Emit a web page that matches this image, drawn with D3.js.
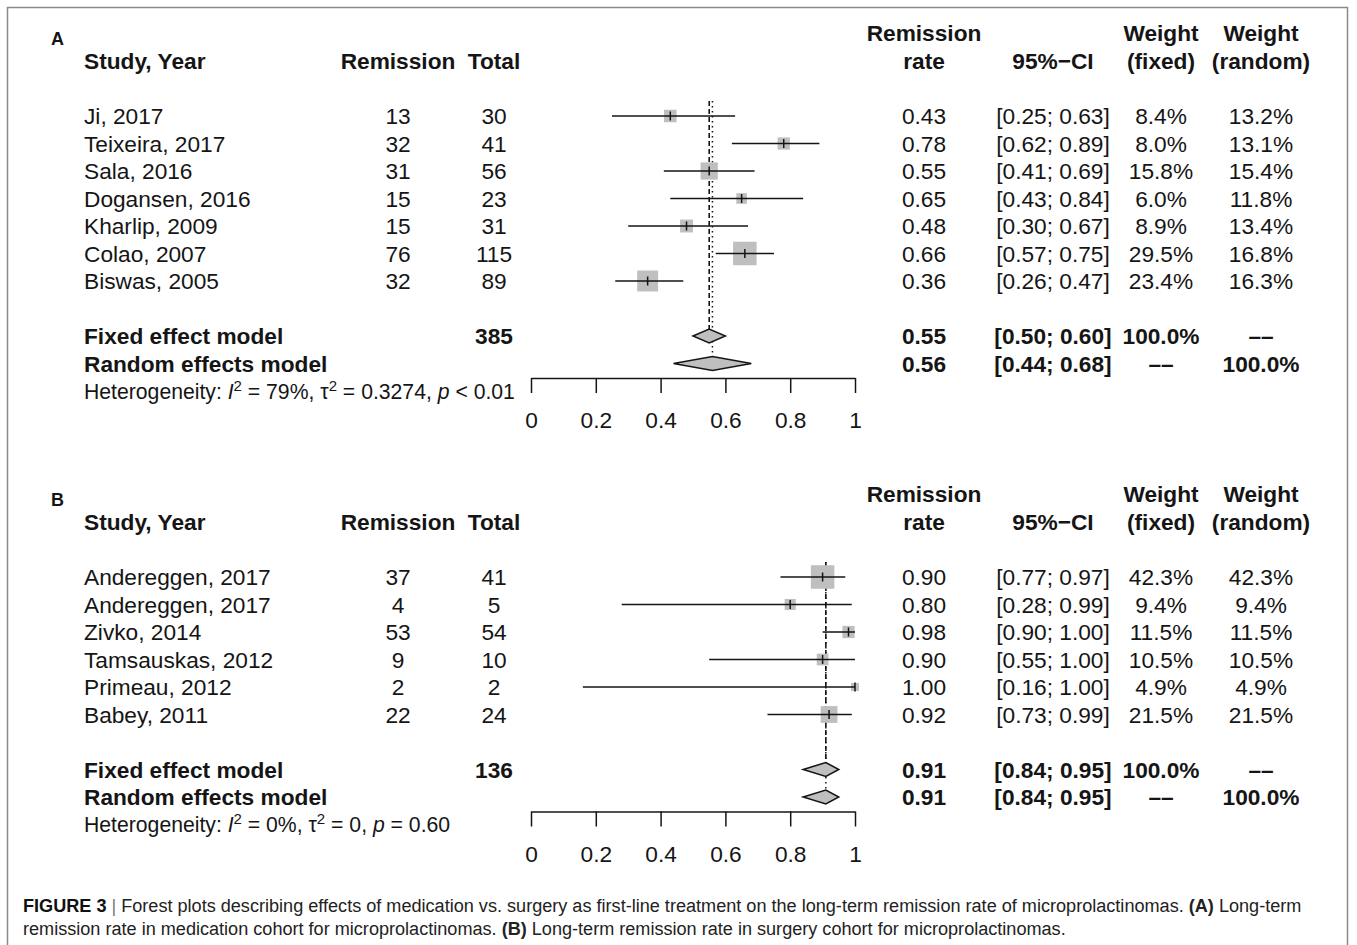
<!DOCTYPE html>
<html>
<head>
<meta charset="utf-8">
<script src="https://cdn.jsdelivr.net/npm/d3@7"></script>
<style>
  body { margin: 0; background: #fff; }
  svg { display: block; font-family: "Liberation Sans", Arial, sans-serif; }
</style>
</head>
<body>
<div id="chart"></div>
<script>
// ---- panel A : medication cohort ----
const studiesA = ["Ji, 2017", "Teixeira, 2017", "Sala, 2016", "Dogansen, 2016", "Kharlip, 2009", "Colao, 2007", "Biswas, 2005"];
const eventsA = [13, 32, 31, 15, 15, 76, 32];
const totalsA = [30, 41, 56, 23, 31, 115, 89];
const rateA = [0.43, 0.78, 0.55, 0.65, 0.48, 0.66, 0.36];
const lowerA = [0.25, 0.62, 0.41, 0.43, 0.30, 0.57, 0.26];
const upperA = [0.63, 0.89, 0.69, 0.84, 0.67, 0.75, 0.47];
const wFixedA = [8.4, 8.0, 15.8, 6.0, 8.9, 29.5, 23.4];
const wRandomA = [13.2, 13.1, 15.4, 11.8, 13.4, 16.8, 16.3];
const pooledRateA = [0.55, 0.56];   // fixed, random
const pooledLowerA = [0.50, 0.44];
const pooledUpperA = [0.60, 0.68];
const pooledTotalA = 385;
const hetA = ["79%", "0.3274", "<", "0.01"];

// ---- panel B : surgery cohort ----
const studiesB = ["Andereggen, 2017", "Andereggen, 2017", "Zivko, 2014", "Tamsauskas, 2012", "Primeau, 2012", "Babey, 2011"];
const eventsB = [37, 4, 53, 9, 2, 22];
const totalsB = [41, 5, 54, 10, 2, 24];
const rateB = [0.90, 0.80, 0.98, 0.90, 1.00, 0.92];
const lowerB = [0.77, 0.28, 0.90, 0.55, 0.16, 0.73];
const upperB = [0.97, 0.99, 1.00, 1.00, 1.00, 0.99];
const wFixedB = [42.3, 9.4, 11.5, 10.5, 4.9, 21.5];
const wRandomB = [42.3, 9.4, 11.5, 10.5, 4.9, 21.5];
const pooledRateB = [0.91, 0.91];
const pooledLowerB = [0.84, 0.84];
const pooledUpperB = [0.95, 0.95];
const pooledTotalB = 136;
const hetB = ["0%", "0", "=", "0.60"];

const tickValues = [0, 0.2, 0.4, 0.6, 0.8, 1];
const tickLabels = ["0", "0.2", "0.4", "0.6", "0.8", "1"];

const W = 1357, H = 945;
const svg = d3.select("#chart").append("svg")
  .attr("width", W).attr("height", H);

// outer frame
svg.append("rect")
  .attr("x", 7.5).attr("y", 7.5)
  .attr("width", 1340).attr("height", 960)
  .attr("fill", "none").attr("stroke", "#8a8a8a").attr("stroke-width", 1.5);

const FS = 22.7;
const ink = "#151515";
const dash2 = "\u2013\u2013";   // R prints "--" here, drawn wide
const col = { study: 84, events: 398, total: 494, rate: 924, ci: 1053, wf: 1161, wr: 1261 };
const x = d3.scaleLinear().domain([0, 1]).range([531, 855]);
const pct = d3.format(".1f");
const f2 = d3.format(".2f");

function txt(g, xp, yp, s, anchor, bold) {
  return g.append("text")
    .attr("x", xp).attr("y", yp + 0.36 * FS)
    .attr("text-anchor", anchor || "middle")
    .attr("font-size", FS)
    .attr("font-weight", bold ? "bold" : null)
    .attr("fill", ink)
    .text(s);
}

function drawPanel(label, top, d) {
  const g = svg.append("g");
  const rowH = 27.5;
  const first = top;                       // y of first study row
  const rows = d.studies.map((s, i) => first + i * rowH);
  const yFixed = rows[rows.length - 1] + 2 * rowH;
  const yRandom = yFixed + rowH;
  const yAxis = yRandom + 14.5;

  // header
  g.append("text").attr("x", 51).attr("y", first - 78 + 6.5)
    .attr("font-size", 18).attr("font-weight", "bold").attr("fill", ink).text(label);
  txt(g, col.study, first - 55, "Study, Year", "start", true);
  txt(g, col.events, first - 55, "Remission", "middle", true);
  txt(g, col.total, first - 55, "Total", "middle", true);
  txt(g, col.rate, first - 83, "Remission", "middle", true);
  txt(g, col.rate, first - 55, "rate", "middle", true);
  txt(g, col.ci, first - 55, "95%\u2212CI", "middle", true);
  txt(g, col.wf, first - 83, "Weight", "middle", true);
  txt(g, col.wf, first - 55, "(fixed)", "middle", true);
  txt(g, col.wr, first - 83, "Weight", "middle", true);
  txt(g, col.wr, first - 55, "(random)", "middle", true);

  // study rows text
  d.studies.forEach((s, i) => {
    const y = rows[i];
    txt(g, col.study, y, s, "start");
    txt(g, col.events, y, d.events[i]);
    txt(g, col.total, y, d.totals[i]);
    txt(g, col.rate, y, f2(d.rate[i]));
    txt(g, col.ci, y, "[" + f2(d.lower[i]) + "; " + f2(d.upper[i]) + "]");
    txt(g, col.wf, y, pct(d.wFixed[i]) + "%");
    txt(g, col.wr, y, pct(d.wRandom[i]) + "%");
  });

  // pooled rows text
  txt(g, col.study, yFixed, "Fixed effect model", "start", true);
  txt(g, col.total, yFixed, d.pooledTotal, "middle", true);
  txt(g, col.rate, yFixed, f2(d.pooledRate[0]), "middle", true);
  txt(g, col.ci, yFixed, "[" + f2(d.pooledLower[0]) + "; " + f2(d.pooledUpper[0]) + "]", "middle", true);
  txt(g, col.wf, yFixed, "100.0%", "middle", true);
  txt(g, col.wr, yFixed, dash2, "middle", true);
  txt(g, col.study, yRandom, "Random effects model", "start", true);
  txt(g, col.rate, yRandom, f2(d.pooledRate[1]), "middle", true);
  txt(g, col.ci, yRandom, "[" + f2(d.pooledLower[1]) + "; " + f2(d.pooledUpper[1]) + "]", "middle", true);
  txt(g, col.wf, yRandom, dash2, "middle", true);
  txt(g, col.wr, yRandom, "100.0%", "middle", true);

  // heterogeneity line (pixel shifts so the baseline returns exactly)
  const hs = 21.2, up = 8;
  const het = g.append("text").attr("x", col.study).attr("y", yRandom + rowH + 0.36 * hs)
    .attr("font-size", hs).attr("fill", ink);
  het.append("tspan").text("Heterogeneity: ");
  het.append("tspan").attr("font-style", "italic").text("I");
  het.append("tspan").attr("dy", -up).attr("font-size", 15).text("2");
  het.append("tspan").attr("dy", up).text(" = " + d.het[0] + ", \u03c4");
  het.append("tspan").attr("dy", -up).attr("font-size", 15).text("2");
  het.append("tspan").attr("dy", up).text(" = " + d.het[1] + ", ");
  het.append("tspan").attr("font-style", "italic").text("p");
  het.append("tspan").text(" " + d.het[2] + " " + d.het[3]);

  // reference lines (fixed dashed, random dotted)
  g.append("line")
    .attr("x1", x(d.pooledRate[0])).attr("x2", x(d.pooledRate[0]))
    .attr("y1", first - 15).attr("y2", yFixed - 7)
    .attr("stroke", ink).attr("stroke-width", 1.6).attr("stroke-dasharray", "5,3");
  g.append("line")
    .attr("x1", x(d.pooledRate[1])).attr("x2", x(d.pooledRate[1]))
    .attr("y1", first - 15).attr("y2", yRandom - 7)
    .attr("stroke", ink).attr("stroke-width", 1.5).attr("stroke-dasharray", "1.5,3.5");

  // boxes sized by fixed weight
  const size = d3.scaleSqrt().domain([0, d3.max(d.wFixed)]).range([0, 23.5]);
  const st = g.selectAll(".study").data(d.studies).enter().append("g").attr("class", "study");
  st.append("rect")
    .attr("x", (s, i) => x(d.rate[i]) - size(d.wFixed[i]) / 2)
    .attr("y", (s, i) => rows[i] - size(d.wFixed[i]) / 2)
    .attr("width", (s, i) => size(d.wFixed[i]))
    .attr("height", (s, i) => size(d.wFixed[i]))
    .attr("fill", "#bfbfbf");
  st.append("line")
    .attr("x1", (s, i) => x(d.lower[i])).attr("x2", (s, i) => x(d.upper[i]))
    .attr("y1", (s, i) => rows[i]).attr("y2", (s, i) => rows[i])
    .attr("stroke", ink).attr("stroke-width", 1.5);
  st.append("line")
    .attr("x1", (s, i) => x(d.rate[i])).attr("x2", (s, i) => x(d.rate[i]))
    .attr("y1", (s, i) => rows[i] - 4.5).attr("y2", (s, i) => rows[i] + 4.5)
    .attr("stroke", ink).attr("stroke-width", 1.5);

  // diamonds
  [yFixed, yRandom].forEach((yy, k) => {
    const pts = [[x(d.pooledLower[k]), yy], [x(d.pooledRate[k]), yy - 7],
                 [x(d.pooledUpper[k]), yy], [x(d.pooledRate[k]), yy + 7]];
    g.append("path")
      .attr("d", "M" + pts.map(p => p.join(",")).join("L") + "Z")
      .attr("fill", "#bfbfbf").attr("stroke", ink).attr("stroke-width", 1.5);
  });

  // axis
  const axis = d3.axisBottom(x).tickValues(tickValues)
    .tickFormat((v, i) => tickLabels[i]).tickSize(15).tickSizeOuter(0).tickPadding(19);
  const ag = g.append("g").attr("transform", "translate(0," + yAxis + ")").call(axis);
  ag.select(".domain").attr("stroke", ink).attr("stroke-width", 1.5);
  ag.selectAll(".tick line").attr("stroke", ink).attr("stroke-width", 1.5);
  ag.selectAll(".tick text").attr("font-size", FS).attr("fill", ink)
    .attr("font-family", "'Liberation Sans', Arial, sans-serif");
}

drawPanel("A", 116, {
  studies: studiesA, events: eventsA, totals: totalsA, rate: rateA, lower: lowerA, upper: upperA,
  wFixed: wFixedA, wRandom: wRandomA, pooledRate: pooledRateA, pooledLower: pooledLowerA,
  pooledUpper: pooledUpperA, pooledTotal: pooledTotalA, het: hetA
});
drawPanel("B", 577, {
  studies: studiesB, events: eventsB, totals: totalsB, rate: rateB, lower: lowerB, upper: upperB,
  wFixed: wFixedB, wRandom: wRandomB, pooledRate: pooledRateB, pooledLower: pooledLowerB,
  pooledUpper: pooledUpperB, pooledTotal: pooledTotalB, het: hetB
});

// caption (condensed face: measured, then squeezed to the reference line width)
const cap = svg.append("g").attr("font-family", "'Liberation Sans Narrow', 'Arial Narrow', 'Liberation Sans', sans-serif")
  .attr("font-size", 19).attr("fill", "#222");
const l1 = cap.append("text").attr("x", 0).attr("y", 6.8);
l1.append("tspan").attr("font-weight", "bold").attr("fill", "#111").text("FIGURE 3");
l1.append("tspan").attr("fill", "#777").text(" | ");
l1.append("tspan").text("Forest plots describing effects of medication vs. surgery as first-line treatment on the long-term remission rate of microprolactinomas. ");
l1.append("tspan").attr("font-weight", "bold").text("(A)");
l1.append("tspan").text(" Long-term");
const l2 = cap.append("text").attr("x", 0).attr("y", 29.8);
l2.append("tspan").text("remission rate in medication cohort for microprolactinomas. ");
l2.append("tspan").attr("font-weight", "bold").text("(B)");
l2.append("tspan").text(" Long-term remission rate in surgery cohort for microprolactinomas.");
const w1 = l1.node().getBBox().width;
const sx = 1279 / w1;
cap.attr("transform", "translate(23,905) scale(" + sx + ",1)");
</script>
</body>
</html>
